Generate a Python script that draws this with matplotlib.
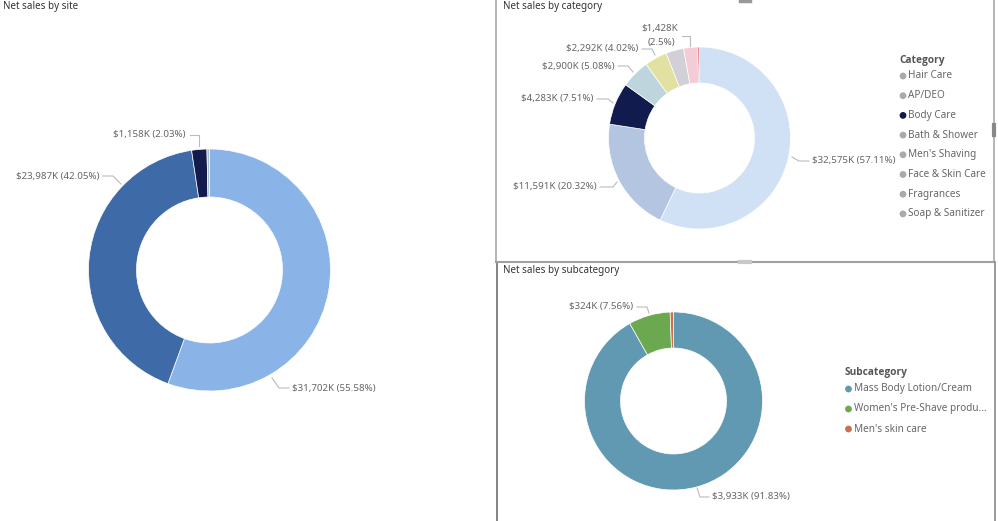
import matplotlib
matplotlib.use("Agg")
import matplotlib.pyplot as plt

plt.rcParams['font.family'] = ['Noto Sans', 'DejaVu Sans']

W, H = 998, 521

# ---------------- data ----------------
site_values = [31702, 23987, 1158, 192]           # $K
site_colors = ['#8AB4E8', '#3F6AA8', '#131A4C', '#A9BCCB']

cat_names = ['Hair Care', 'AP/DEO', 'Body Care', 'Bath & Shower', "Men's Shaving",
             'Face & Skin Care', 'Fragrances', 'Soap & Sanitizer']
cat_values = [32575, 11591, 4283, 2900, 2292, 1800, 1428, 170]   # $K
cat_colors = ['#D0E1F6', '#B3C5E1', '#121B4E', '#BED5DE', '#E2E1A1', '#D3CFD6', '#F4CCD7', '#E0636F']
cat_legend_colors = ['#AAAAAA', '#AAAAAA', '#121B4E', '#AAAAAA', '#AAAAAA', '#AAAAAA', '#AAAAAA', '#AAAAAA']

sub_names = ['Mass Body Lotion/Cream', "Women's Pre-Shave produ...", "Men's skin care"]
sub_values = [3933, 324, 26]   # $K
sub_colors = ['#6199B2', '#6BA84F', '#C8714F']

TXT = '#666666'
TITLE = '#333333'
LEAD = '#BBBBBB'
FS = 7
TFS = 7.1
LFS = 7.2
BOLD = ['Open Sans', 'Lato', 'DejaVu Sans']


def fmt(v, total):
    p = f"{100 * v / total:.2f}".rstrip('0').rstrip('.')
    return f"${v:,}K ({p}%)"


fig = plt.figure(figsize=(W / 100, H / 100), dpi=100)
ax = fig.add_axes([0, 0, 1, 1])


def Y(y):
    return H - y


def donut(values, colors, cx, cy, r_out, r_in):
    ax.pie(values, colors=colors, startangle=90, counterclock=False,
           radius=r_out, center=(cx, Y(cy)),
           wedgeprops=dict(width=r_out - r_in, edgecolor='white', linewidth=0.5))


def leader(pts):
    ax.plot([p[0] for p in pts], [Y(p[1]) for p in pts], color=LEAD, lw=0.8,
            solid_joinstyle='miter')


def label(x, y, s, ha):
    ax.text(x, Y(y), s, ha=ha, va='center', fontsize=FS, color=TXT)


# ---------------- site ----------------
ax.text(3, Y(7), 'Net sales by site', fontsize=TFS, color=TITLE, ha='left', va='center')
donut(site_values, site_colors, 209.5, 270, 121, 73)
st = sum(site_values)
label(186, 135, fmt(site_values[2], st), 'right')
leader([(190, 135), (199, 135), (199, 146)])
label(100, 176, fmt(site_values[1], st), 'right')
leader([(103, 176), (113, 176), (121, 184)])
label(292, 388, fmt(site_values[0], st), 'left')
leader([(272, 378), (279, 388), (289, 388)])

# ---------------- category ----------------
ax.text(503, Y(7), 'Net sales by category', fontsize=TFS, color=TITLE, ha='left', va='center')
donut(cat_values, cat_colors, 699.5, 138, 91, 55)
ct = sum(cat_values)
lab = fmt(cat_values[6], ct).split(' ')
ax.text(660, Y(29), lab[0], ha='center', va='center', fontsize=FS, color=TXT)
ax.text(661, Y(43), lab[1], ha='center', va='center', fontsize=FS, color=TXT)
leader([(682, 36), (690, 36), (690, 46)])
label(638, 49, fmt(cat_values[4], ct), 'right')
leader([(642, 49), (652, 49), (655, 55)])
label(615, 66, fmt(cat_values[3], ct), 'right')
leader([(618, 66), (628, 66), (633, 72)])
label(593, 99, fmt(cat_values[2], ct), 'right')
leader([(597, 99), (608, 99), (613, 103)])
label(597, 187, fmt(cat_values[1], ct), 'right')
leader([(600, 187), (613, 187), (617, 182)])
label(812, 161, fmt(cat_values[0], ct), 'left')
leader([(792, 157), (799, 161), (809, 161)])

ax.text(899, Y(61), 'Category', fontsize=7.3, color='#555555', fontweight='bold',
        family=BOLD, ha='left', va='center')
for i, (n, c) in enumerate(zip(cat_names, cat_legend_colors)):
    yy = 76 + i * 19.7
    ax.scatter([903], [Y(yy)], s=24, color=c, edgecolors='none')
    ax.text(908.5, Y(yy), n, fontsize=LFS, color=TXT, ha='left', va='center')

# ---------------- subcategory ----------------
ax.text(503, Y(271), 'Net sales by subcategory', fontsize=TFS, color=TITLE, ha='left', va='center')
donut(sub_values, sub_colors, 673.5, 401, 89, 53)
sbt = sum(sub_values)
label(633, 307, fmt(sub_values[1], sbt), 'right')
leader([(637, 307), (647, 307), (649, 313)])
label(712, 497, fmt(sub_values[0], sbt), 'left')
leader([(697, 488), (700, 497), (709, 497)])

ax.text(845, Y(373), 'Subcategory', fontsize=7.3, color='#555555', fontweight='bold',
        family=BOLD, ha='left', va='center')
for i, (n, c) in enumerate(zip(sub_names, sub_colors)):
    yy = 389 + i * 20
    ax.scatter([848.5], [Y(yy)], s=24, color=c, edgecolors='none')
    ax.text(854, Y(yy), n, fontsize=LFS, color=TXT, ha='left', va='center')

# ---------------- panel borders ----------------
ax.plot([496, 496], [Y(0), Y(262)], color='#A8A8A8', lw=1.2)
ax.plot([497, 497], [Y(262), Y(521)], color='#6E6E6E', lw=1.2)
ax.plot([496, 994], [Y(262), Y(262)], color='#A0A0A0', lw=1.5)
ax.plot([994, 994], [Y(0), Y(262)], color='#A8A8A8', lw=1.2)
ax.plot([995, 995], [Y(262), Y(521)], color='#8A8A8A', lw=1.2)
ax.plot([740, 750], [Y(1), Y(1)], color='#999999', lw=2.5)
ax.plot([740, 750], [Y(262), Y(262)], color='#C8C8C8', lw=3)
ax.plot([994, 994], [Y(125), Y(135)], color='#888888', lw=3)

ax.set_xlim(0, W)
ax.set_ylim(0, H)
ax.set_aspect('auto')
ax.axis('off')

fig.savefig('out.png', dpi=100, facecolor='white')
